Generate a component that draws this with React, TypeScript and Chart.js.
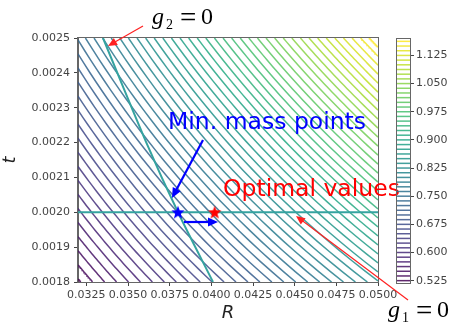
import React, { useEffect, useRef } from 'react';
import { Chart, registerables } from 'chart.js';

Chart.register(...registerables);

const W = 451;
const H = 327;

// ---- data ----
const rRange = [0.032, 0.05];
const tRange = [0.0018, 0.0025];
const xTicks = [0.0325, 0.035, 0.0375, 0.04, 0.0425, 0.045, 0.0475, 0.05];
const yTicks = [0.0018, 0.0019, 0.002, 0.0021, 0.0022, 0.0023, 0.0024, 0.0025];
const levels = [
  0.525, 0.5375, 0.55, 0.5625, 0.575, 0.5875, 0.6, 0.6125, 0.625, 0.6375,
  0.65, 0.6625, 0.675, 0.6875, 0.7, 0.7125, 0.725, 0.7375, 0.75, 0.7625,
  0.775, 0.7875, 0.8, 0.8125, 0.825, 0.8375, 0.85, 0.8625, 0.875, 0.8875,
  0.9, 0.9125, 0.925, 0.9375, 0.95, 0.9625, 0.975, 0.9875, 1.0, 1.0125,
  1.025, 1.0375, 1.05, 1.0625, 1.075, 1.0875, 1.1, 1.1125, 1.125, 1.1375,
  1.15, 1.1625,
];
const colorbarTicks = [0.525, 0.6, 0.675, 0.75, 0.825, 0.9, 0.975, 1.05, 1.125];
const colorbarRange = [0.51875, 1.16875];
// mass(R, t) = coef * R * t + offset 
const massCoef = 9690;
const massOffset = -0.036;
const g1R = [0.032, 0.05];
const g1T = [0.002, 0.002];
const g2R = [0.0335, 0.0361, 0.038, 0.0401];
const g2T = [0.0025, 0.0022, 0.002, 0.0018];
const minMassR = [0.038];
const minMassT = [0.002];
const optimalR = [0.0402];
const optimalT = [0.002];

// ---- styles ----
const VIRIDIS = [
  '#440154', '#482475', '#414487', '#355f8d', '#2a788e', '#21918c',
  '#22a884', '#44bf70', '#7ad151', '#bddf26', '#fde725',
];
function hexToRgb(h: string) {
  return [parseInt(h.slice(1, 3), 16), parseInt(h.slice(3, 5), 16), parseInt(h.slice(5, 7), 16)];
}
function viridis(f: number, alpha: number) {
  const v = Math.max(0, Math.min(1, f)) * (VIRIDIS.length - 1);
  const i = Math.min(VIRIDIS.length - 2, Math.floor(v));
  const u = v - i;
  const a = hexToRgb(VIRIDIS[i]);
  const b = hexToRgb(VIRIDIS[i + 1]);
  const c = a.map((x, k) => Math.round(x + (b[k] - x) * u));
  return `rgba(${c[0]},${c[1]},${c[2]},${alpha})`;
}
const levelColor = (L: number) => viridis((L - levels[0]) / (levels[levels.length - 1] - levels[0]), 0.85);

function contourPoints(level: number) {
  const p = (level - massOffset) / massCoef;
  const tLo = Math.max(tRange[0], p / rRange[1]);
  const tHi = Math.min(tRange[1], p / rRange[0]);
  if (!(tLo < tHi)) return [];
  const pts: { x: number; y: number }[] = [];
  const n = 24;
  for (let i = 0; i <= n; i++) {
    const t = tLo + ((tHi - tLo) * i) / n;
    pts.push({ x: p / t, y: t });
  }
  return pts;
}

function starImage(color: string, r: number) {
  const c = document.createElement('canvas');
  const s = Math.ceil(2 * r + 2);
  c.width = s;
  c.height = s;
  const ctx = c.getContext('2d')!;
  ctx.translate(s / 2, s / 2 + 0.5);
  ctx.beginPath();
  for (let i = 0; i < 10; i++) {
    const rad = i % 2 === 0 ? r : r * 0.42;
    const a = -Math.PI / 2 + (i * Math.PI) / 5;
    ctx.lineTo(rad * Math.cos(a), rad * Math.sin(a));
  }
  ctx.closePath();
  ctx.fillStyle = color;
  ctx.fill();
  return c;
}

function arrow(ctx: CanvasRenderingContext2D, x1: number, y1: number, x2: number, y2: number, color: string, lw: number, hl: number, hw: number) {
  const ang = Math.atan2(y2 - y1, x2 - x1);
  const cs = Math.cos(ang);
  const sn = Math.sin(ang);
  const bx = x2 - hl * cs;
  const by = y2 - hl * sn;
  ctx.save();
  ctx.strokeStyle = color;
  ctx.fillStyle = color;
  ctx.lineWidth = lw;
  ctx.beginPath();
  ctx.moveTo(x1, y1);
  ctx.lineTo(bx + cs * 1, by + sn * 1);
  ctx.stroke();
  ctx.beginPath();
  ctx.moveTo(x2, y2);
  ctx.lineTo(bx - (hw / 2) * sn, by + (hw / 2) * cs);
  ctx.lineTo(bx + (hw / 2) * sn, by - (hw / 2) * cs);
  ctx.closePath();
  ctx.fill();
  ctx.restore();
}

function drawEq(ctx: CanvasRenderingContext2D, x: number, base: number, sub: string) {
  ctx.save();
  ctx.fillStyle = '#000';
  ctx.textBaseline = 'alphabetic';
  ctx.textAlign = 'left';
  ctx.font = 'italic 24px "Liberation Serif"';
  ctx.fillText('g', x, base);
  ctx.font = '14px "Liberation Serif"';
  ctx.fillText(sub, x + 14, base + 5);
  ctx.font = '29px "Liberation Serif"';
  ctx.fillText('=', x + 28, base + 3);
  ctx.font = '24px "Liberation Serif"';
  ctx.fillText('0', x + 49, base);
  ctx.restore();
}

const framePlugin = {
  id: 'frame',
  afterDatasetsDraw(chart: any) {
    const { ctx, chartArea: a } = chart;
    ctx.save();
    ctx.strokeStyle = '#666';
    ctx.lineWidth = 1;
    ctx.strokeRect(Math.round(a.left) - 0.5, Math.round(a.top) - 0.5, Math.round(a.right - a.left) + 1, Math.round(a.bottom - a.top) + 1);
    ctx.restore();
  },
};

const annotationPlugin = {
  id: 'annot',
  afterDraw(chart: any) {
    const { ctx } = chart;
    ctx.save();
    ctx.textAlign = 'left';
    ctx.textBaseline = 'alphabetic';
    ctx.font = '23.5px "DejaVu Sans"';
    ctx.fillStyle = '#0000ff';
    ctx.fillText('Min. mass points', 168, 129);
    ctx.fillStyle = '#ff0000';
    ctx.fillText('Optimal values', 223, 196);
    arrow(ctx, 203, 140, 172, 198, '#0000ff', 2.2, 10, 9);
    arrow(ctx, 184, 222, 218, 222, '#0000ff', 2.2, 10, 9);
    arrow(ctx, 143, 26, 108, 46, '#ff2020', 1.2, 9, 8);
    arrow(ctx, 408, 300, 296, 216, '#ff2020', 1.2, 9, 8);
    drawEq(ctx, 152, 24, '2');
    drawEq(ctx, 388, 317, '1');
    ctx.restore();
  },
};

const tickFont = { family: 'DejaVu Sans', size: 11 };

export default function App() {
  const mainRef = useRef<HTMLCanvasElement>(null);
  const cbRef = useRef<HTMLCanvasElement>(null);

  useEffect(() => {
    const contourSets = levels
      .map((L) => ({ L, pts: contourPoints(L) }))
      .filter((d) => d.pts.length > 0)
      .map((d) => ({
        data: d.pts,
        showLine: true,
        borderColor: levelColor(d.L),
        borderWidth: 1.5,
        pointRadius: 0,
      }));
    const main = new Chart(mainRef.current!, {
      type: 'scatter',
      data: {
        datasets: [
          {
            data: optimalR.map((r, i) => ({ x: r, y: optimalT[i] })),
            pointStyle: starImage('#ff0000', 7) as any,
            pointRadius: 7,
          },
          {
            data: minMassR.map((r, i) => ({ x: r, y: minMassT[i] })),
            pointStyle: starImage('#0000ff', 7) as any,
            pointRadius: 7,
          },
          {
            data: g1R.map((r, i) => ({ x: r, y: g1T[i] })),
            showLine: true,
            borderColor: '#35a3a0',
            borderWidth: 2,
            pointRadius: 0,
          },
          {
            data: g2R.map((r, i) => ({ x: r, y: g2T[i] })),
            showLine: true,
            borderColor: '#35a3a0',
            borderWidth: 2,
            pointRadius: 0,
            tension: 0.3,
          },
          ...contourSets,
        ] as any,
      },
      options: {
        responsive: false,
        animation: false,
        layout: { padding: { left: 0, top: 38, right: 73, bottom: 0 } },
        plugins: { legend: { display: false }, tooltip: { enabled: false } },
        scales: {
          x: {
            type: 'linear',
            min: rRange[0],
            max: rRange[1],
            afterBuildTicks: (s: any) => {
              s.ticks = xTicks.map((v) => ({ value: v }));
            },
            afterFit: (s: any) => {
              s.height = 45;
            },
            ticks: {
              autoSkip: false,
              maxRotation: 0,
              minRotation: 0,
              padding: 3,
              color: '#444',
              font: tickFont,
              callback: (v: any) => Number(v).toFixed(4),
            },
            grid: { drawOnChartArea: false, drawTicks: true, tickLength: 4, color: '#444' },
            border: { display: true, color: '#666' },
            title: {
              display: true,
              text: 'R',
              color: '#222',
              font: { family: 'DejaVu Sans', size: 18, style: 'italic' },
              padding: { top: 0, bottom: 3 },
            },
          },
          y: {
            type: 'linear',
            min: tRange[0],
            max: tRange[1],
            afterBuildTicks: (s: any) => {
              s.ticks = yTicks.map((v) => ({ value: v }));
            },
            afterFit: (s: any) => {
              s.width = 78;
            },
            ticks: {
              autoSkip: false,
              padding: 4,
              color: '#444',
              font: tickFont,
              callback: (v: any) => Number(v).toFixed(4),
            },
            grid: { drawOnChartArea: false, drawTicks: true, tickLength: 4, color: '#444' },
            border: { display: true, color: '#666' },
            title: {
              display: true,
              text: 't',
              color: '#222',
              font: { family: 'DejaVu Sans', size: 18, style: 'italic' },
              padding: { top: 0, bottom: 0 },
            },
          },
        },
      } as any,
      plugins: [framePlugin, annotationPlugin],
    });

    const cb = new Chart(cbRef.current!, {
      type: 'scatter',
      data: {
        datasets: levels.map((L) => ({
          data: [
            { x: 0, y: L },
            { x: 1, y: L },
          ],
          showLine: true,
          borderColor: levelColor(L),
          borderWidth: 1.5,
          pointRadius: 0,
        })) as any,
      },
      options: {
        responsive: false,
        animation: false,
        layout: { padding: { left: 397, top: 39, right: 0, bottom: 44 } },
        plugins: { legend: { display: false }, tooltip: { enabled: false } },
        scales: {
          x: { type: 'linear', min: 0, max: 1, display: false },
          y: {
            type: 'linear',
            position: 'right',
            min: colorbarRange[0],
            max: colorbarRange[1],
            afterBuildTicks: (s: any) => {
              s.ticks = colorbarTicks.map((v) => ({ value: v }));
            },
            afterFit: (s: any) => {
              s.width = 41;
            },
            ticks: {
              autoSkip: false,
              padding: 2,
              color: '#444',
              font: tickFont,
              callback: (v: any) => Number(v).toFixed(3),
            },
            grid: { drawOnChartArea: false, drawTicks: true, tickLength: 4, color: '#444' },
            border: { display: true, color: '#666' },
          },
        },
      } as any,
      plugins: [framePlugin],
    });

    return () => {
      main.destroy();
      cb.destroy();
    };
  }, []);

  return (
    <div style={{ position: 'fixed', left: 0, top: 0, width: W, height: H, background: '#fff' }}>
      <canvas ref={mainRef} width={W} height={H} style={{ position: 'absolute', left: 0, top: 0 }} />
      <canvas ref={cbRef} width={W} height={H} style={{ position: 'absolute', left: 0, top: 0 }} />
    </div>
  );
}
